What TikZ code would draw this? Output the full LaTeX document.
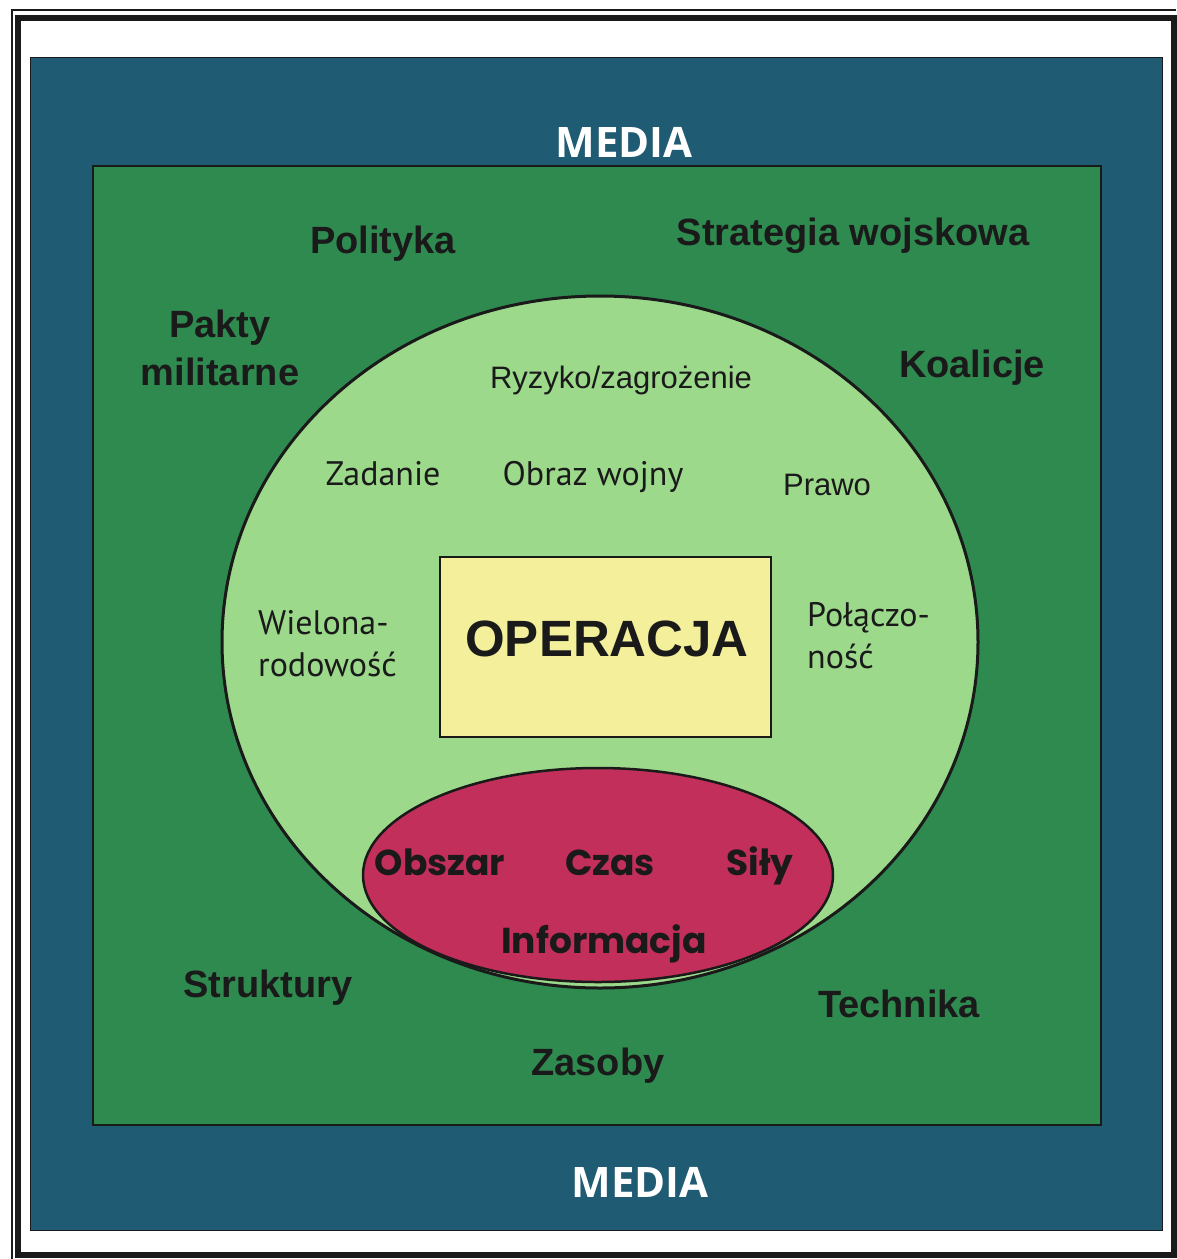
\documentclass[tikz,border=0pt]{standalone}
\usepackage{fontspec}
\setmainfont{Liberation Sans}
\newfontfamily\humfont{PT Sans}
\newfontfamily\geofont{Poppins}
\newfontfamily\mediafont{Open Sans}
\usetikzlibrary{shapes.geometric}
\definecolor{mediablue}{HTML}{1F5B72}
\definecolor{envgreen}{HTML}{2F8A50}
\definecolor{opgreen}{HTML}{9CD98B}
\definecolor{opyellow}{HTML}{F3EF9A}
\definecolor{corered}{HTML}{C22F5A}
\definecolor{ink}{HTML}{1A1A1A}
\begin{document}
\begin{tikzpicture}[x=1pt,y=-1pt,
  zone/.style={draw=ink, inner sep=0pt, anchor=north west},
  medialbl/.style={font=\mediafont\bfseries\fontsize{42}{48}\selectfont, text=white, anchor=base, inner sep=0pt},
  outerlbl/.style={font=\bfseries\fontsize{38}{48}\selectfont, text=ink, anchor=base, inner sep=0pt, align=center},
  innerlbl/.style={font=\fontsize{31}{36}\selectfont, text=ink, anchor=base, inner sep=0pt},
  humlbl/.style={font=\humfont\fontsize{34}{42}\selectfont, text=ink, anchor=base west, inner sep=0pt, align=left},
  corelbl/.style={font=\geofont\bfseries\fontsize{36}{42}\selectfont, text=ink, anchor=base, inner sep=0pt}]
\useasboundingbox (0,0) rectangle (1176,1259);
\fill[white] (0,0) rectangle (1176,1259);
% page frame: thin outer rule and heavy inner rule
\draw[ink, line width=1.2] (12,1259) -- (12,10) -- (1176,10);
\draw[ink, line width=6] (18,18) rectangle (1174,1255);
% nested zones
\node[zone, fill=mediablue, line width=1, minimum width=1132, minimum height=1173] (media) at (30,57) {};
\node[zone, fill=envgreen, line width=2, minimum width=1008, minimum height=959] (env) at (92,165) {};
\node[ellipse, draw=ink, fill=opgreen, line width=3, inner sep=0pt, minimum width=756, minimum height=692] (opspace) at (600,642) {};
\node[draw=ink, fill=opyellow, line width=2, inner sep=0pt, minimum width=331, minimum height=180] (opbox) at (605.5,647) {};
\node[ellipse, draw=ink, fill=corered, line width=2.5, inner sep=0pt, minimum width=470, minimum height=214] (core) at (598,875) {};
% media labels
\node[medialbl] (mediatop) at (624,157) {MEDIA};
\node[medialbl] (mediabot) at (640,1197) {MEDIA};
% environment labels (multi-line nodes sit on the baseline of their last line)
\node[outerlbl] (polityka) at (383,253) {Polityka};
\node[outerlbl] (strategia) at (853,245) {Strategia wojskowa};
\node[outerlbl] (pakty) at (220,385) {Pakty\\militarne};
\node[outerlbl] (koalicje) at (972,377) {Koalicje};
\node[outerlbl] (struktury) at (268,997) {Struktury};
\node[outerlbl] (technika) at (899,1017) {Technika};
\node[outerlbl] (zasoby) at (598,1075) {Zasoby};
% operation space labels
\node[innerlbl] (ryzyko) at (621,388) {Ryzyko/zagrożenie};
\node[innerlbl] (prawo) at (827,495) {Prawo};
\node[humlbl, anchor=base] (zadanie) at (383,485) {Zadanie};
\node[humlbl, anchor=base] (obraz) at (593,485) {Obraz wojny};
\node[humlbl] (wielo) at (258,676) {Wielona-\\rodowość};
\node[humlbl] (polacz) at (807,668) {Połączo-\\ność};
\node[font=\bfseries\fontsize{51}{56}\selectfont, text=ink, inner sep=0pt] (operacja) at (607,639) {OPERACJA};
% core factors
\node[corelbl] (obszar) at (440,875) {Obszar};
\node[corelbl] (czas) at (610,875) {Czas};
\node[corelbl] (sily) at (760,875) {Siły};
\node[corelbl] (info) at (604,953) {Informacja};
\end{tikzpicture}
\end{document}
